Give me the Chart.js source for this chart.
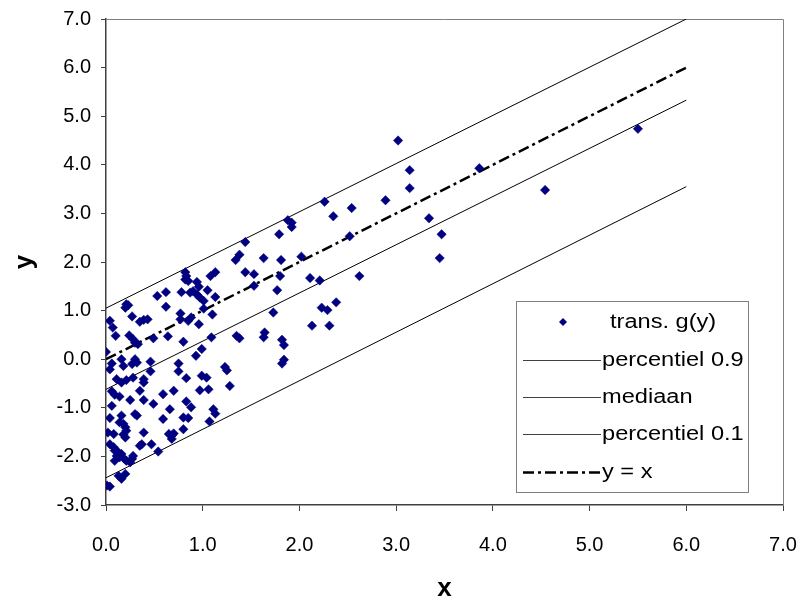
<!DOCTYPE html>
<html>
<head>
<meta charset="utf-8">
<script src="https://cdn.jsdelivr.net/npm/chart.js@4.4.1/dist/chart.umd.min.js"></script>
<style>
  html, body { margin: 0; padding: 0; background: #ffffff; }
  #wrap { width: 804px; height: 602px; position: relative; }
</style>
</head>
<body>
<div id="wrap"><canvas id="c" width="804" height="602"></canvas></div>
<script>
// ---- data ----
const obsX = [
  3.02,3.14,3.14,2.89,2.54,3.86,3.34,3.47,3.45,4.54,2.62,2.52,5.50,
  2.26,2.35,1.88,1.92,1.92,1.79,1.44,1.38,1.34,1.63,1.81,2.02,1.44,1.53,1.80,1.53,2.11,2.21,1.77,1.73,2.38,2.23,2.29,2.13,2.31,1.35,1.38,1.64,1.63,1.82,1.84,1.84,1.82,1.23,1.25,1.28,
  0.82,0.83,0.82,0.85,1.08,1.13,0.94,0.96,0.62,0.53,0.78,0.87,0.90,0.94,1.05,0.97,1.01,1.13,0.62,0.21,0.23,0.20,1.01,0.77,0.27,1.10,0.04,0.07,0.35,0.39,0.43,0.77,0.85,0.88,0.96,0.10,0.24,0.28,0.30,0.33,0.49,0.64,0.80,1.09,0.99,0.93,0.00,0.16,0.06,0.30,0.27,0.32,0.46,0.75,0.18,
  0.04,0.75,0.46,0.11,0.16,0.21,0.28,0.39,0.39,0.83,0.99,1.04,0.06,0.09,0.14,0.25,0.35,0.39,0.59,0.70,0.97,1.06,0.83,0.88,0.49,0.06,0.66,1.11,1.13,0.30,0.32,0.04,0.16,0.14,0.18,0.59,0.80,0.85,1.07,0.20,0.21,0.02,0.08,0.18,0.20,0.39,0.80,0.65,0.68,0.70,0.68,0.04,0.08,0.37,0.35,0.47,0.09,0.12,0.11,0.14,0.09,0.16,0.19,0.21,0.27,0.28,0.25,0.54,0.13,0.16,0.20,0.01,0.04
];
const obsY = [
  4.50,3.89,3.52,3.27,3.11,3.93,2.90,2.57,2.08,3.48,1.71,2.53,4.74,
  3.24,2.94,2.86,2.81,2.72,2.57,2.41,2.15,2.04,2.08,2.04,2.11,1.79,1.75,1.71,1.51,1.67,1.62,1.42,0.96,1.17,1.06,1.01,0.69,0.69,0.48,0.43,0.55,0.45,0.40,0.29,-0.01,-0.09,-0.16,-0.23,-0.55,
  1.79,1.71,1.64,1.61,1.71,1.79,1.59,1.49,1.38,1.30,1.38,1.37,1.40,1.33,1.42,1.27,1.20,1.28,1.08,1.13,1.11,1.06,1.04,0.94,0.88,0.92,0.79,0.65,0.77,0.81,0.82,0.82,0.79,0.86,0.72,0.48,0.49,0.41,0.34,0.31,0.43,0.47,0.36,0.45,0.21,0.07,0.15,0.00,-0.09,0.00,-0.10,-0.07,-0.05,-0.09,-0.14,
  -0.21,-0.25,-0.25,-0.41,-0.48,-0.43,-0.38,-0.41,-0.48,-0.39,-0.34,-0.38,-0.66,-0.73,-0.77,-0.84,-0.65,-0.84,-0.72,-0.65,-0.64,-0.62,-0.87,-0.99,-0.92,-0.96,-1.03,-1.03,-1.12,-1.13,-1.16,-1.21,-1.16,-1.30,-1.33,-1.23,-1.20,-1.21,-1.28,-1.40,-1.47,-1.51,-1.54,-1.55,-1.61,-1.51,-1.44,-1.54,-1.57,-1.53,-1.64,-1.75,-1.81,-1.75,-1.78,-1.75,-1.88,-1.90,-1.99,-2.02,-2.09,-1.95,-2.05,-2.09,-2.05,-1.99,-2.12,-1.90,-2.40,-2.46,-2.36,-2.60,-2.62
];
const lineX     = [0, 6];
const p90Y      = [1.05, 7.00];
const medianY   = [-0.62, 5.33];
const p10Y      = [-2.44, 3.55];
const identityY = [0, 6];
const xTicks = [0, 1, 2, 3, 4, 5, 6, 7];
const yTicks = [-3, -2, -1, 0, 1, 2, 3, 4, 5, 6, 7];
const seriesNames = ['trans. g(y)', 'percentiel 0.9', 'mediaan', 'percentiel 0.1', 'y = x'];

// ---- build datasets ----
const pts = (xs, ys) => xs.map((x, i) => ({x: x, y: ys[i]}));
const FONT = '"Liberation Sans", Arial, sans-serif';
const DASHDOT = [11, 4, 3, 4];

const datasets = [
  { label: seriesNames[0], data: pts(obsX, obsY), showLine: false,
    pointStyle: 'rectRot', pointRadius: 4.7, pointBackgroundColor: '#000080',
    pointBorderColor: '#000080', pointBorderWidth: 0.5 },
  { label: seriesNames[1], data: pts(lineX, p90Y), showLine: true, pointRadius: 0,
    borderColor: '#000000', borderWidth: 1 },
  { label: seriesNames[2], data: pts(lineX, medianY), showLine: true, pointRadius: 0,
    borderColor: '#000000', borderWidth: 1 },
  { label: seriesNames[3], data: pts(lineX, p10Y), showLine: true, pointRadius: 0,
    borderColor: '#000000', borderWidth: 1 },
  { label: seriesNames[4], data: pts(lineX, identityY), showLine: true, pointRadius: 0,
    borderColor: '#000000', borderWidth: 2.5, borderDash: DASHDOT }
];

// plot-area frame (top & right gray lines)
const framePlugin = {
  id: 'frame',
  beforeDatasetsDraw(chart) {
    const {ctx, chartArea: a} = chart;
    ctx.save();
    ctx.strokeStyle = '#808080';
    ctx.lineWidth = 1;
    ctx.beginPath();
    ctx.moveTo(a.left, a.top + 0.5);
    ctx.lineTo(a.right + 0.5, a.top + 0.5);
    ctx.lineTo(a.right + 0.5, a.bottom);
    ctx.stroke();
    ctx.restore();
  }
};

// boxed legend inside plot area
const boxLegend = {
  id: 'boxLegend',
  afterDraw(chart) {
    const {ctx} = chart;
    const bx = 516, by = 301, bw = 232, bh = 191;
    const rowY = [322, 360, 397, 434, 472];
    const textX = [610, 602, 602, 602, 602];
    ctx.save();
    ctx.fillStyle = '#ffffff';
    ctx.fillRect(bx, by, bw, bh);
    ctx.strokeStyle = '#808080';
    ctx.lineWidth = 1;
    ctx.strokeRect(bx + 0.5, by + 0.5, bw, bh);
    chart.data.datasets.forEach((ds, i) => {
      const y = rowY[i];
      if (i === 0) {
        ctx.fillStyle = '#000080';
        ctx.beginPath();
        ctx.moveTo(563, y - 4); ctx.lineTo(567, y); ctx.lineTo(563, y + 4); ctx.lineTo(559, y);
        ctx.closePath(); ctx.fill();
      } else {
        ctx.strokeStyle = i === 4 ? '#000000' : '#404040';
        ctx.lineWidth = i === 4 ? 2.5 : 1;
        ctx.setLineDash(i === 4 ? DASHDOT : []);
        ctx.beginPath();
        ctx.moveTo(523, y + 0.5); ctx.lineTo(601, y + 0.5);
        ctx.stroke();
        ctx.setLineDash([]);
      }
      ctx.save();
      ctx.translate(textX[i], y);
      ctx.scale(1.18, 1);
      ctx.font = '20px ' + FONT;
      ctx.textBaseline = 'middle';
      ctx.textAlign = 'left';
      ctx.fillStyle = '#000000';
      ctx.fillText(ds.label, 0, 0);
      ctx.restore();
    });
    ctx.restore();
  }
};

new Chart(document.getElementById('c'), {
  type: 'scatter',
  data: { datasets: datasets },
  options: {
    responsive: false,
    animation: false,
    devicePixelRatio: 1,
    layout: { padding: { left: 0, top: 19, right: 21, bottom: 0 } },
    plugins: { legend: { display: false }, tooltip: { enabled: false } },
    scales: {
      x: {
        type: 'linear', min: 0, max: 7,
        afterBuildTicks(s) { s.ticks = xTicks.map(v => ({value: v})); },
        afterFit(s) { s.height = 97; s.paddingLeft = 0; s.paddingRight = 0; },
        border: { color: '#404040', width: 1.5 },
        grid: { drawOnChartArea: false, drawTicks: true, tickLength: 6, color: '#404040' },
        ticks: { color: '#000', font: { family: FONT, size: 20 }, padding: 22,
                 callback: v => Number(v).toFixed(1), maxRotation: 0 },
        title: { display: true, text: 'x', color: '#000',
                 font: { family: FONT, size: 26, weight: 'bold', lineHeight: 1 },
                 padding: { top: 0, bottom: 0 } }
      },
      y: {
        type: 'linear', min: -3, max: 7,
        afterBuildTicks(s) { s.ticks = yTicks.map(v => ({value: v})); },
        afterFit(s) { s.width = 106; s.paddingTop = 0; s.paddingBottom = 0; },
        border: { color: '#404040', width: 1.5 },
        grid: { drawOnChartArea: false, drawTicks: true, tickLength: 5, color: '#404040' },
        ticks: { color: '#000', font: { family: FONT, size: 20 }, padding: 10,
                 callback: v => Number(v).toFixed(1) },
        title: { display: true, text: 'y', color: '#000',
                 font: { family: FONT, size: 26, weight: 'bold', lineHeight: 1 },
                 padding: { top: 12, bottom: 0 } }
      }
    }
  },
  plugins: [framePlugin, boxLegend]
});
</script>
</body>
</html>
